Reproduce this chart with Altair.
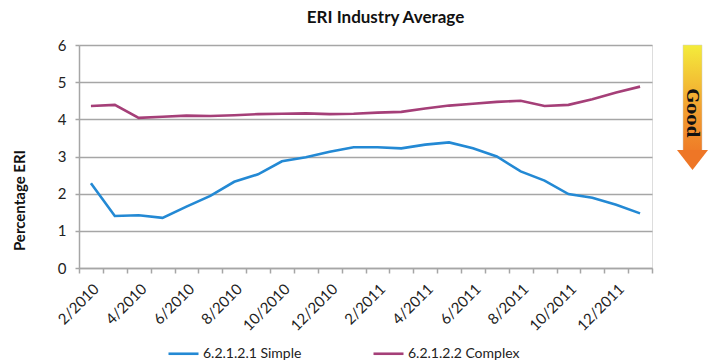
import altair as alt
import pandas as pd

months = ["2/2010", "3/2010", "4/2010", "5/2010", "6/2010", "7/2010", "8/2010",
          "9/2010", "10/2010", "11/2010", "12/2010", "1/2011", "2/2011", "3/2011",
          "4/2011", "5/2011", "6/2011", "7/2011", "8/2011", "9/2011", "10/2011",
          "11/2011", "12/2011", "1/2012"]
simple = [2.28, 1.40, 1.42, 1.35, 1.65, 1.94, 2.32, 2.52, 2.87, 2.98, 3.13, 3.25,
          3.25, 3.22, 3.32, 3.38, 3.22, 3.00, 2.60, 2.35, 1.99, 1.89, 1.70, 1.47]
complex_ = [4.36, 4.39, 4.04, 4.07, 4.10, 4.09, 4.11, 4.14, 4.15, 4.16, 4.14, 4.15,
            4.18, 4.20, 4.29, 4.37, 4.42, 4.47, 4.50, 4.36, 4.39, 4.54, 4.72, 4.88]
series_names = ["6.2.1.2.1 Simple", "6.2.1.2.2 Complex"]
series_colors = ["#2389d4", "#a53f78"]

df = pd.DataFrame({
    "month": months * 2,
    "value": simple + complex_,
    "series": [series_names[0]] * len(months) + [series_names[1]] * len(months),
})

FONT = "Lato"

lines = alt.Chart(df).mark_line(strokeWidth=2.6).encode(
    x=alt.X("month:O", sort=months, title=None,
            scale=alt.Scale(paddingInner=0, paddingOuter=0),
            axis=alt.Axis(labelAngle=-45, tickBand="extent", grid=False,
                          labelExpr="parseInt(datum.label) % 2 == 0 ? datum.label : ''",
                          labelFont=FONT, labelFontSize=15, labelColor="#222222",
                          labelPadding=8, tickSize=5, tickColor="#a6a6a6",
                          domainColor="#a6a6a6", domainWidth=1.5, tickWidth=1.5)),
    y=alt.Y("value:Q", title="Percentage ERI",
            scale=alt.Scale(domain=[0, 6], nice=False),
            axis=alt.Axis(values=[0, 1, 2, 3, 4, 5, 6], tickSize=4, labelPadding=9,
                          labelFont=FONT, labelFontSize=15, labelColor="#222222",
                          gridColor="#a6a6a6", gridWidth=1.5, tickColor="#a6a6a6",
                          domainColor="#a6a6a6", domainWidth=1.5, tickWidth=1.5,
                          titleFont=FONT, titleFontSize=15, titleFontWeight="bold",
                          titleColor="#111111", titleX=-52, titleY=155)),
    color=alt.Color("series:N", scale=alt.Scale(domain=series_names, range=series_colors),
                    legend=alt.Legend(title=None, orient="none", direction="horizontal",
                                      legendX=88, legendY=292, symbolType="stroke",
                                      symbolSize=900, symbolStrokeWidth=2.6,
                                      labelFont=FONT, labelFontSize=14, labelColor="#222222",
                                      labelOffset=3, columnPadding=66)),
)

body = alt.Chart(pd.DataFrame({"a": [0]})).mark_rect(
    color=alt.LinearGradient(gradient="linear", x1=0, x2=0, y1=0, y2=1,
                             stops=[alt.GradientStop(color="#f4ec3b", offset=0),
                                    alt.GradientStop(color="#f2a030", offset=0.6),
                                    alt.GradientStop(color="#ef7c27", offset=1)]),
    stroke="#cfcfcf", strokeWidth=0.5,
).encode(x=alt.value(604), x2=alt.value(623), y=alt.value(0), y2=alt.value(106))

head = alt.Chart(pd.DataFrame({"a": [0]})).mark_point(
    shape="M-1,-0.65L1,-0.65L0,0.65Z", filled=True, opacity=1, color="#ee7626", size=961,
).encode(x=alt.value(613.5), y=alt.value(115))

good = alt.Chart(pd.DataFrame({"t": ["Good"]})).mark_text(
    angle=90, font="DejaVu Serif", fontWeight="bold", fontSize=17, color="#111111",
    align="center", baseline="middle",
).encode(text="t:N", x=alt.value(613), y=alt.value(68))

chart = alt.layer(lines, body, head, good).properties(
    width=573, height=223,
    autosize=alt.AutoSizeParams(type="none"),
    padding={"left": 79, "top": 45, "right": 60, "bottom": 93},
    title=alt.Title("ERI Industry Average", font=FONT, fontSize=17, fontWeight="bold",
                    color="#111111", anchor="middle", dx=20, offset=11),
).configure_view(stroke=None).configure(background="white")

chart.save("out.html", embed_options={"renderer": "svg", "actions": False})
